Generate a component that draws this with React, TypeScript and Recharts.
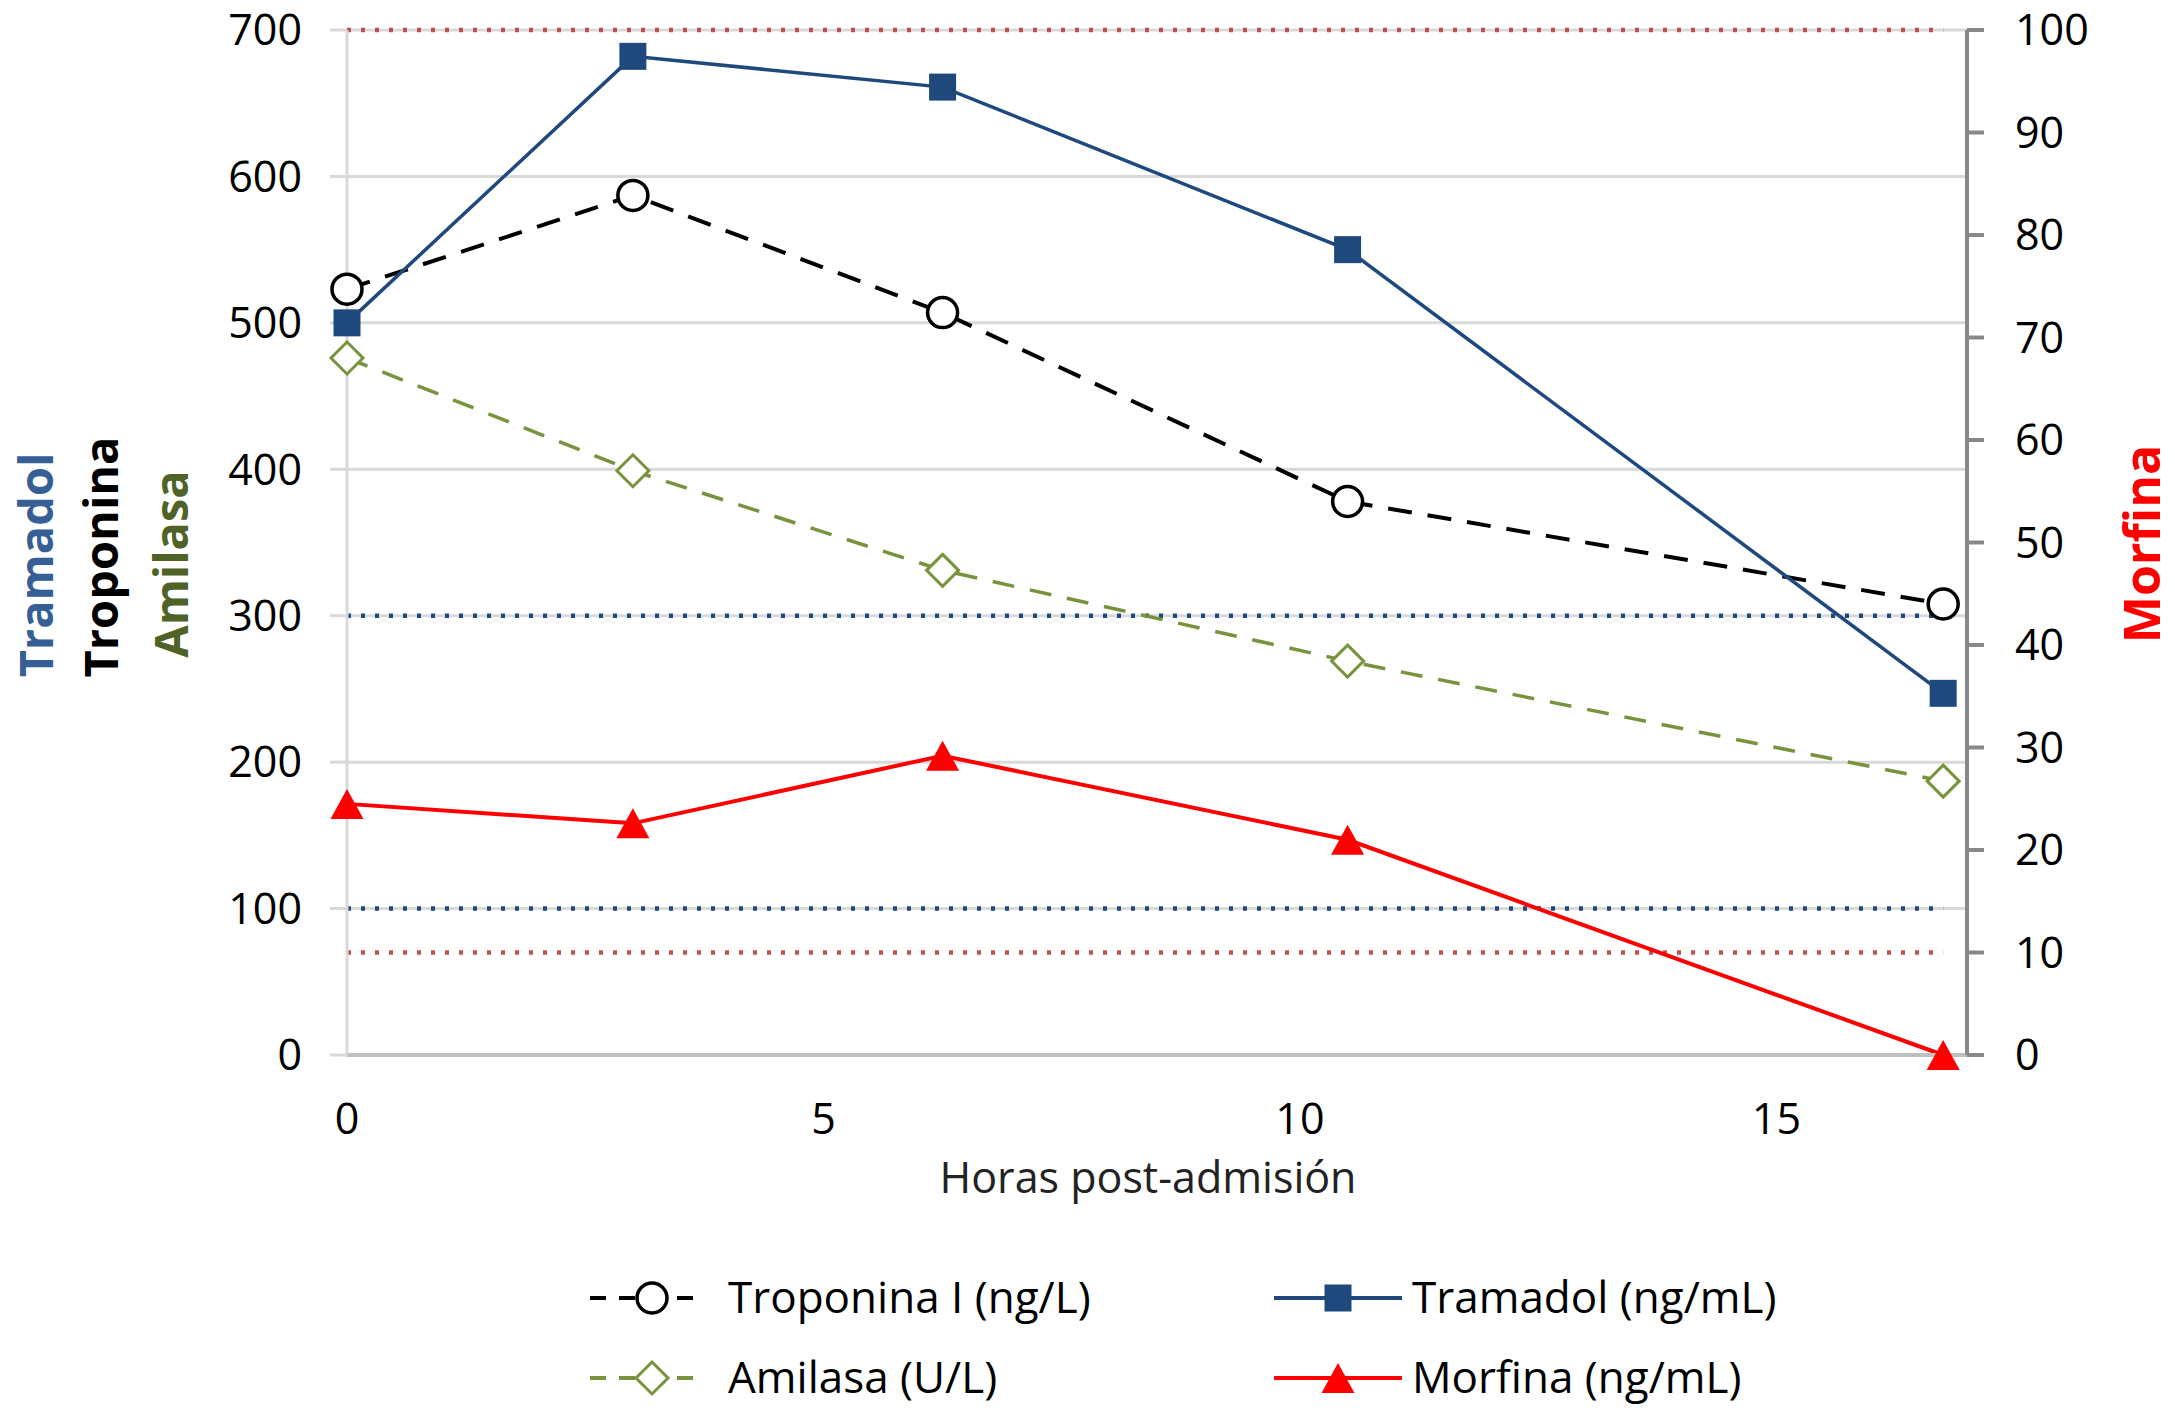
import React from 'react';
import { ComposedChart, Line, XAxis, YAxis, CartesianGrid, ReferenceLine, Legend, Label } from 'recharts';

// horas post-admisión de cada muestra
const horas = [0, 3, 6.25, 10.5, 16.75];
const troponina = [523, 587, 507, 378, 308]; // ng/L
const tramadol = [500, 682, 661, 550, 247]; // ng/mL
const amilasa = [476, 399, 331, 269, 187]; // U/L
const morfina = [24.5, 22.6, 29.2, 21, 0]; // ng/mL (eje derecho)

const ticksHoras = [0, 5, 10, 15];
const ticksIzq = [0, 100, 200, 300, 400, 500, 600, 700];
const ticksDer = [0, 10, 20, 30, 40, 50, 60, 70, 80, 90, 100];

// límites de referencia (líneas punteadas)
const limitesTramadol = [100, 300];
const limitesMorfina = [10, 100];

const datos = horas.map((hora, i) => ({
  hora,
  troponina: troponina[i],
  tramadol: tramadol[i],
  amilasa: amilasa[i],
  morfina: morfina[i],
}));

const FUENTE = '"Open Sans", sans-serif';
const AZUL = '#1F497D';
const OLIVA = '#77933C';
const ROJO = '#FF0000';

function marcador(tipo: string, x: number, y: number, key?: any) {
  if (tipo === 'cuadrado') {
    return <rect key={key} x={x - 13.5} y={y - 13.5} width={27} height={27} fill={AZUL} />;
  }
  if (tipo === 'circulo') {
    return <circle key={key} cx={x} cy={y} r={15} fill="#fff" stroke="#000" strokeWidth={3.5} />;
  }
  if (tipo === 'rombo') {
    return (
      <polygon
        key={key}
        points={`${x},${y - 16} ${x + 16},${y} ${x},${y + 16} ${x - 16},${y}`}
        fill="#fff"
        stroke={OLIVA}
        strokeWidth={3}
      />
    );
  }
  return (
    <polygon key={key} points={`${x},${y - 15} ${x + 16.5},${y + 15} ${x - 16.5},${y + 15}`} fill={ROJO} />
  );
}

const punto = (tipo: string) => (props: any) => {
  const { cx, cy, index } = props;
  if (cx == null || cy == null) return <g key={`${tipo}-${index}`} />;
  return marcador(tipo, cx, cy, `${tipo}-${index}`);
};

const itemsLeyenda = [
  { nombre: 'Troponina I (ng/L)', tipo: 'circulo', color: '#000', guiones: '16 13', x0: 590, x1: 706, xm: 652, xt: 728, fila: 0 },
  { nombre: 'Tramadol (ng/mL)', tipo: 'cuadrado', color: AZUL, guiones: undefined, x0: 1274, x1: 1402, xm: 1338, xt: 1412, fila: 0 },
  { nombre: 'Amilasa (U/L)', tipo: 'rombo', color: OLIVA, guiones: '16 13', x0: 590, x1: 706, xm: 652, xt: 728, fila: 1 },
  { nombre: 'Morfina (ng/mL)', tipo: 'triangulo', color: ROJO, guiones: undefined, x0: 1274, x1: 1402, xm: 1338, xt: 1412, fila: 1 },
];

const Leyenda = () => (
  <svg width={2175} height={200} style={{ display: 'block' }}>
    {itemsLeyenda.map((it) => {
      const y = it.fila === 0 ? 80 : 160;
      return (
        <g key={it.nombre}>
          <line x1={it.x0} x2={it.x1} y1={y} y2={y} stroke={it.color} strokeWidth={4} strokeDasharray={it.guiones} />
          {marcador(it.tipo, it.xm, y)}
          <text x={it.xt} y={y + 15} fontSize={44} fontFamily={FUENTE} fill="#000">
            {it.nombre}
          </text>
        </g>
      );
    })}
  </svg>
);

const TitulosIzq = (props: any) => {
  const vb = props.viewBox || { x: 0, y: 30 };
  const x = vb.x;
  const estilo = { fontSize: 47, fontWeight: 700, fontFamily: FUENTE, textAnchor: 'middle' as const };
  return (
    <g>
      <text x={x + 53} y={565} transform={`rotate(-90, ${x + 53}, 565)`} fill="#365F96" {...estilo}>
        Tramadol
      </text>
      <text x={x + 118} y={557} transform={`rotate(-90, ${x + 118}, 557)`} fill="#000" {...estilo}>
        Troponina
      </text>
      <text x={x + 188} y={564} transform={`rotate(-90, ${x + 188}, 564)`} fill="#4F6228" {...estilo}>
        Amilasa
      </text>
    </g>
  );
};

const TituloDer = (props: any) => {
  const vb = props.viewBox || { x: 1967, width: 208 };
  const x = vb.x + 193;
  return (
    <text
      x={x}
      y={544}
      transform={`rotate(-90, ${x}, 544)`}
      fill={ROJO}
      fontSize={50}
      fontWeight={700}
      fontFamily={FUENTE}
      textAnchor="middle"
    >
      Morfina
    </text>
  );
};

const TituloX = (props: any) => {
  const vb = props.viewBox || { x: 347, y: 1055, width: 1620 };
  return (
    <text
      x={vb.x + vb.width / 2 - 9}
      y={vb.y + 138}
      fontSize={43}
      fontFamily={FUENTE}
      fill="#222"
      textAnchor="middle"
    >
      Horas post-admisión
    </text>
  );
};

const tickEstilo = { fontSize: 43, fill: '#000', fontFamily: FUENTE };

export default function App() {
  const inicio = horas[0];
  const fin = horas[horas.length - 1];
  return (
    <div style={{ position: 'absolute', left: 0, top: 0, width: 2175, height: 1418, background: '#fff' }}>
      <ComposedChart width={2175} height={1418} data={datos} margin={{ top: 30, right: 0, bottom: 0, left: 0 }}>
        <CartesianGrid yAxisId="izq" vertical={false} stroke="#D9D9D9" strokeWidth={3} />
        <XAxis
          dataKey="hora"
          type="number"
          domain={[0, 17]}
          ticks={ticksHoras}
          interval={0}
          height={163}
          tickLine={false}
          tickSize={0}
          tickMargin={48}
          axisLine={{ stroke: '#BFBFBF', strokeWidth: 4 }}
          tick={tickEstilo}
        >
          <Label content={TituloX} />
        </XAxis>
        <YAxis
          yAxisId="izq"
          domain={[0, 700]}
          ticks={ticksIzq}
          interval={0}
          width={347}
          tickSize={17}
          tickMargin={28}
          tickLine={{ stroke: '#D9D9D9', strokeWidth: 3 }}
          axisLine={{ stroke: '#D9D9D9', strokeWidth: 3 }}
          tick={tickEstilo}
        >
          <Label content={TitulosIzq} />
        </YAxis>
        <YAxis
          yAxisId="der"
          orientation="right"
          domain={[0, 100]}
          ticks={ticksDer}
          interval={0}
          width={208}
          tickSize={17}
          tickMargin={31}
          tickLine={{ stroke: '#888888', strokeWidth: 4 }}
          axisLine={{ stroke: '#888888', strokeWidth: 4 }}
          tick={tickEstilo}
        >
          <Label content={TituloDer} />
        </YAxis>

        {limitesTramadol.map((v) => (
          <ReferenceLine
            key={`t-${v}`}
            yAxisId="izq"
            segment={[{ x: inicio, y: v }, { x: fin, y: v }]}
            stroke={AZUL}
            strokeWidth={4.5}
            strokeDasharray="4 10"
          />
        ))}
        {limitesMorfina.map((v) => (
          <ReferenceLine
            key={`m-${v}`}
            yAxisId="der"
            segment={[{ x: inicio, y: v }, { x: fin, y: v }]}
            stroke="#C0504D"
            strokeWidth={4.5}
            strokeDasharray="4 10"
          />
        ))}

        <Line
          yAxisId="izq"
          dataKey="troponina"
          stroke="#000"
          strokeWidth={4}
          strokeDasharray="24 16"
          dot={punto('circulo')}
          activeDot={false}
          isAnimationActive={false}
        />
        <Line
          yAxisId="izq"
          dataKey="tramadol"
          stroke={AZUL}
          strokeWidth={3.5}
          dot={punto('cuadrado')}
          activeDot={false}
          isAnimationActive={false}
        />
        <Line
          yAxisId="izq"
          dataKey="amilasa"
          stroke={OLIVA}
          strokeWidth={3.5}
          strokeDasharray="22 16"
          dot={punto('rombo')}
          activeDot={false}
          isAnimationActive={false}
        />
        <Line
          yAxisId="der"
          dataKey="morfina"
          stroke={ROJO}
          strokeWidth={4}
          dot={punto('triangulo')}
          activeDot={false}
          isAnimationActive={false}
        />
        <Legend
          verticalAlign="bottom"
          content={Leyenda}
          wrapperStyle={{ left: 0, bottom: 0, width: 2175, height: 200 }}
        />
      </ComposedChart>
    </div>
  );
}
